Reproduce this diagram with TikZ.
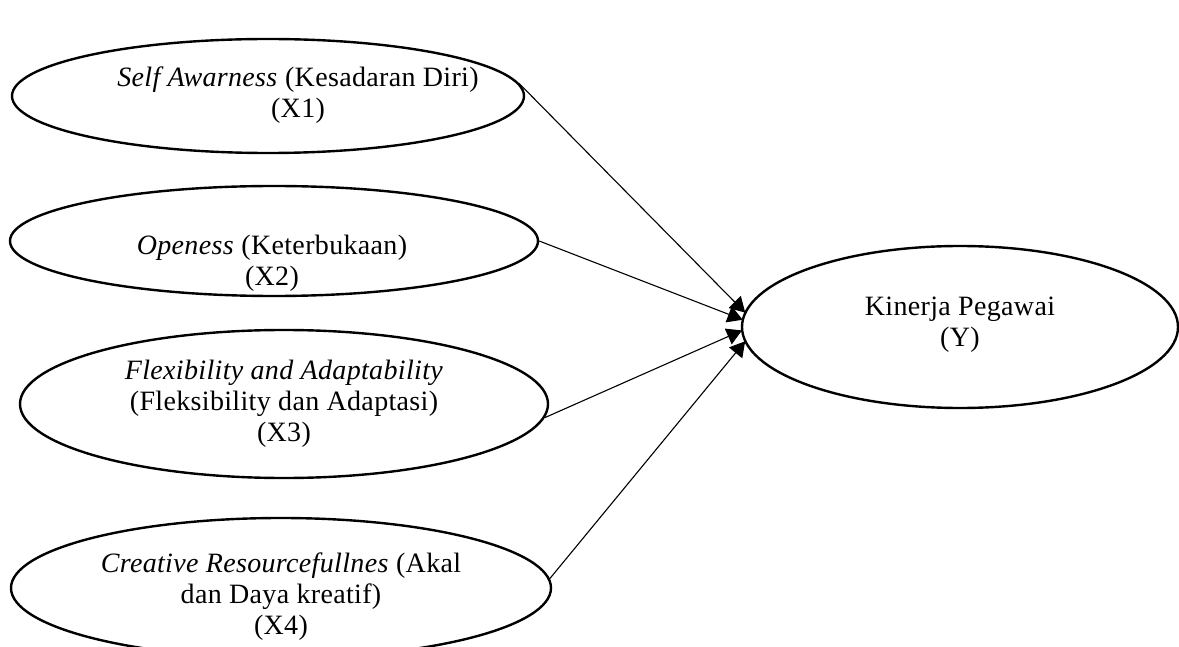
\documentclass[tikz,border=0pt]{standalone}
\usepackage{fontspec}
\setmainfont[LetterSpace=1.2]{Liberation Serif}
\usetikzlibrary{shapes.geometric,arrows.meta}
\tikzset{
  oval/.style={draw, ellipse, line width=2.4pt, inner sep=0pt},
  lbl/.style={align=center, font=\fontsize{28}{31}\selectfont, inner sep=0pt},
  conn/.style={line width=1.1pt, -{Triangle[length=15pt,width=17pt]}, shorten >=-1pt}
}
\begin{document}
\begin{tikzpicture}[x=1pt,y=-1pt]
\useasboundingbox (0,0) rectangle (1179,647);
\begin{scope}
\clip (0,0) rectangle (1179,647);
\node[oval, minimum width=512pt, minimum height=114pt] (e1) at (268,96) {};
\node[oval, minimum width=528pt, minimum height=110pt] (e2) at (274,241) {};
\node[oval, minimum width=528pt, minimum height=148pt] (e3) at (284,404) {};
\node[oval, minimum width=540pt, minimum height=140pt] (e4) at (281,588) {};
\node[oval, minimum width=436pt, minimum height=162pt] (y) at (960,327) {};
\end{scope}
\node[lbl] (t1) at (298,95) {\textit{Self Awarness} (Kesadaran Diri)\\(X1)};
\node[lbl] (t2) at (272,263) {\textit{Openess} (Keterbukaan)\\(X2)};
\node[lbl] (t3) at (284,404) {\textit{Flexibility and Adaptability}\\(Fleksibility dan Adaptasi)\\(X3)};
\node[lbl] (t4) at (281,597) {\textit{Creative Resourcefullnes} (Akal\\dan Daya kreatif)\\(X4)};
\node[lbl] (ty) at (960,325) {Kinerja Pegawai\\(Y)};
\draw[conn] (e1.3) -- (y.176);
\draw[conn] (e2.east) -- (y.178);
\draw[conn] (e3.-3) -- (y.181);
\draw[conn] (e4.2) -- (y.184);
\end{tikzpicture}
\end{document}
